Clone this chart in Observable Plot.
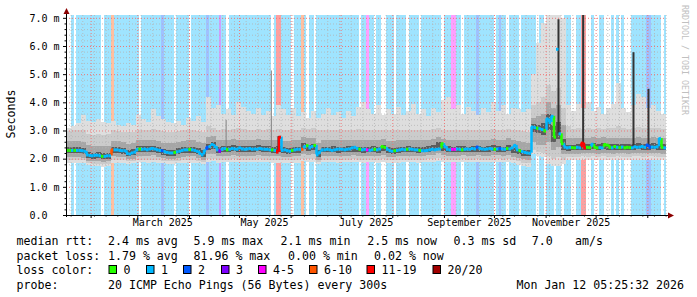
<!DOCTYPE html>
<html><head><meta charset="utf-8">
<script src="https://cdn.jsdelivr.net/npm/d3@7"></script>
<script src="https://cdn.jsdelivr.net/npm/@observablehq/plot@0.6"></script>
<style>
html,body{margin:0;padding:0;background:#fff;}
#chart{width:697px;height:297px;overflow:hidden;}
</style></head>
<body><div id="chart"></div>
<script>
// ---------------- DATA ----------------
const endTimeISO = "2026-01-12T05:25:32Z";
const spanDays = 360;
const medStepDays = 1.5;    // median / loss samples
const smokeStepDays = 3;    // smoke samples

// median rtt (ms), one value per 1.5 days
const medianRtt = [
 2.31,2.31,2.31,2.31,2.31,2.31,2.30,2.28,
 2.15,2.13,2.12,2.14,2.14,2.12,2.10,2.10,2.12,2.12,
 2.33,2.33,2.33,2.31,2.30,2.30,
 2.20,2.18,2.22,2.25,
 2.35,2.36,2.35,2.36,2.33,2.36,2.38,2.36,2.33,2.31,
 2.30,2.26,2.24,2.22,2.22,2.24,2.26,2.28,
 2.31,2.33,2.33,2.35,2.33,2.31,
 2.28,2.20,2.15,2.30,
 2.42,2.45,2.52,2.45,
 2.33,2.28,
 2.36,2.38,2.33,2.35,2.38,2.36,2.35,2.40,2.36,2.35,2.36,2.38,2.35,2.36,2.35,2.38,2.36,2.35,2.35,2.33,
 2.33,2.31,2.25,2.78,
 2.31,2.33,2.30,2.28,2.31,2.33,2.35,
 2.35,2.35,
 2.45,2.48,2.40,
 2.45,2.49,
 2.15,2.25,
 2.33,2.33,2.35,2.33,2.31,2.33,2.35,2.36,2.35,2.33,2.35,2.36,2.40,2.42,2.38,2.35,2.33,2.35,2.33,2.31,
 2.33,2.35,2.33,2.36,2.45,2.42,2.35,2.30,2.28,2.30,2.31,2.33,2.35,2.33,2.35,2.36,2.35,2.33,
 2.33,2.31,2.30,2.30,2.31,2.33,2.35,2.33,2.35,2.36,
 2.55,2.45,
 2.35,2.33,2.35,2.35,2.36,2.35,2.33,2.35,2.36,2.35,2.38,2.36,
 2.43,2.38,
 2.36,2.35,2.36,2.38,2.36,2.35,2.36,2.38,2.36,2.35,2.38,2.36,2.40,2.49,
 2.33,2.30,2.27,2.24,2.22,2.21,
 3.14,3.12,3.10,3.08,3.05,3.00,3.43,3.30,3.52,2.78,5.90,2.90,2.55,2.43,
 2.40,2.42,2.41,2.40,2.42,2.40,2.57,2.40,2.42,2.41,
 2.53,2.42,2.40,2.41,2.40,2.52,2.50,2.42,2.40,2.45,
 2.42,2.41,2.43,2.40,2.42,2.41,2.40,2.44,2.42,2.43,
 2.45,2.42,2.50,2.42,2.43,2.42,2.44,2.73,2.42,2.40
];

// loss class per 1.5 days: 0="0",1="1",2="2",3="3",4="4-5",5="6-10",6="11-19",7="20/20"
const lossClass = (
 "0010111111"+"1111011151"+"1111111110"+"1111111121"+"1110111110"+
 "1111112111"+"1311011111"+"1111111111"+"1101661111"+"0111510110"+
 "1111111111"+"1111111011"+"4110110011"+"1011110111"+"1011111111"+
 "0111441101"+"1111211111"+"1012110111"+"1011111101"+"1011101101"+
 "1100116600"+"1001100010"+"1010001111"+"1122111101"
).split("").map(Number);

// smoke distribution (ms), one value per 3 days
const smokeMax = [
 3.10,3.15,3.25,3.55,3.35,3.30,3.40,3.30,3.25,3.35,3.20,3.15,3.25,3.20,3.55,3.40,3.30,3.75,3.50,3.40,
 3.30,3.25,3.35,3.20,3.45,3.35,3.50,3.30,4.20,3.80,3.90,3.60,3.75,3.55,4.00,3.85,3.70,3.60,3.80,3.55,
 3.70,3.50,3.90,3.75,3.55,3.80,3.50,3.65,3.45,3.70,3.45,3.60,3.80,3.55,3.65,3.45,3.70,3.50,3.85,4.00,
 3.75,3.60,3.90,3.55,3.75,3.60,3.85,3.55,3.70,3.95,3.60,3.75,3.50,3.80,3.65,4.10,4.20,3.75,3.90,3.60,
 3.85,3.70,3.55,3.80,3.65,4.00,3.70,3.90,3.60,3.80,3.75,3.65,3.75,5.00,6.10,6.80,7.20,7.20,7.20,7.00,
 3.90,3.70,3.95,3.80,4.00,3.70,3.85,3.60,3.80,3.95,4.70,3.80,3.65,3.90,4.30,4.20,3.80,3.90,3.70,3.60
];
const smokeP90 = [
 2.98,3.00,3.02,3.00, 2.88,2.85,2.86,2.84,2.86, 3.00,2.98,2.96,2.94,2.95,
 3.02,3.00,3.03,3.05,3.00,2.98,2.95,2.96,2.98,3.00,3.02,3.00,2.98,2.95, 3.15,3.10,
 3.02,3.05,3.03,3.05,3.08,3.05,3.03,3.02,3.05,3.03,3.05,3.02, 3.05,
 3.03,3.00,3.02,3.00,3.08,3.05,3.10,3.00,3.02,3.03,3.00,3.02,3.03,3.00,3.02,3.05,3.03,3.00,3.02,3.00,
 3.03,3.02,3.00,3.02,3.03,3.00,3.02,3.00,3.03,3.02,3.05,3.08,3.03,3.02,3.00,3.02,3.03,3.00,3.02,3.03,
 3.00,3.02,3.05,3.03,3.02,3.06,3.03,3.00,2.98,2.95,
 3.90,4.00,4.20,4.60,4.40,4.50,3.80,3.15,
 3.05,3.08,3.05,3.10,3.05,3.08,3.05,3.10,3.08,3.15,3.08,3.05,3.10,3.12,3.10,3.08,3.10,3.08,3.05
];
const smokeP75 = [
 2.62,2.62,2.63,2.60, 2.48,2.45,2.46,2.44,2.45, 2.64,2.62,2.58,2.52,2.55,
 2.66,2.67,2.65,2.67,2.62,2.57,2.54,2.55,2.60,2.63,2.65,2.65,2.60,2.55, 2.78,2.80,
 2.65,2.68,2.68,2.70,2.67,2.68,2.67,2.67,2.70,2.67,2.68,2.65, 2.68,
 2.63,2.62,2.65,2.65,2.78,2.72,2.75,2.55,2.66,2.66,2.67,2.65,2.66,2.67,2.68,2.66,2.65,2.66,2.67,2.65,
 2.70,2.64,2.62,2.65,2.66,2.67,2.66,2.65,2.66,2.68,2.70,2.78,2.70,2.67,2.66,2.67,2.68,2.66,2.67,2.68,
 2.66,2.67,2.70,2.68,2.66,2.72,2.65,2.62,2.58,2.55,
 3.45,3.50,3.60,4.00,3.80,3.90,3.20,2.75,
 2.72,2.73,2.75,2.74,2.76,2.73,2.76,2.74,2.73,2.75,2.74,2.73,2.75,2.76,2.74,2.75,2.76,2.74,2.73
];
const smokeP60 = [
 2.40,2.40,2.40,2.38, 2.23,2.21,2.22,2.19,2.21, 2.42,2.41,2.38,2.29,2.33,
 2.44,2.45,2.44,2.46,2.40,2.35,2.31,2.32,2.37,2.40,2.42,2.42,2.37,2.30, 2.53,2.58,
 2.42,2.45,2.45,2.48,2.44,2.45,2.44,2.44,2.47,2.44,2.45,2.42, 2.45,
 2.40,2.39,2.42,2.42,2.55,2.48,2.52,2.30,2.43,2.43,2.44,2.42,2.43,2.44,2.45,2.43,2.42,2.43,2.44,2.42,
 2.48,2.40,2.38,2.42,2.43,2.44,2.43,2.42,2.43,2.45,2.48,2.58,2.47,2.44,2.43,2.44,2.45,2.43,2.44,2.45,
 2.43,2.44,2.47,2.45,2.43,2.50,2.40,2.36,2.32,2.30,
 3.22,3.20,3.25,3.60,3.20,3.30,2.70,2.50,
 2.50,2.51,2.53,2.52,2.55,2.51,2.54,2.52,2.51,2.53,2.52,2.51,2.53,2.55,2.52,2.53,2.55,2.52,2.51
];
const smokeP40 = [
 2.19,2.19,2.19,2.16, 2.02,2.00,2.01,1.98,2.00, 2.21,2.20,2.17,2.08,2.12,
 2.23,2.24,2.23,2.25,2.19,2.14,2.10,2.11,2.16,2.19,2.21,2.21,2.16,2.06, 2.30,2.35,
 2.20,2.24,2.24,2.27,2.23,2.24,2.23,2.23,2.26,2.23,2.24,2.21, 2.22,
 2.19,2.18,2.21,2.21,2.33,2.27,2.30,2.05,2.22,2.22,2.23,2.21,2.22,2.23,2.24,2.22,2.21,2.22,2.23,2.21,
 2.27,2.19,2.17,2.21,2.22,2.23,2.22,2.21,2.22,2.24,2.27,2.36,2.26,2.23,2.22,2.23,2.24,2.22,2.23,2.24,
 2.22,2.23,2.26,2.24,2.22,2.28,2.19,2.15,2.11,2.09,
 2.95,2.90,2.85,3.00,2.60,2.70,2.30,2.28,
 2.29,2.30,2.32,2.31,2.34,2.30,2.33,2.31,2.30,2.32,2.31,2.30,2.32,2.34,2.31,2.32,2.34,2.31,2.30
];
const smokeP25 = [
 2.06,2.06,2.06,2.04, 1.92,1.90,1.90,1.88,1.90, 2.08,2.07,2.05,1.98,2.00,
 2.10,2.10,2.10,2.12,2.06,2.02,1.98,1.99,2.03,2.06,2.08,2.08,2.04,1.96, 2.15,2.18,
 2.08,2.10,2.10,2.12,2.10,2.10,2.10,2.10,2.12,2.10,2.10,2.08, 2.09,
 2.07,2.06,2.09,2.09,2.18,2.14,2.16,1.95,2.10,2.10,2.11,2.09,2.10,2.11,2.12,2.10,2.09,2.10,2.11,2.09,
 2.14,2.07,2.05,2.09,2.10,2.11,2.10,2.09,2.10,2.12,2.14,2.20,2.13,2.11,2.10,2.11,2.12,2.10,2.11,2.12,
 2.10,2.11,2.13,2.12,2.10,2.14,2.06,2.02,1.98,1.96,
 2.60,2.50,2.50,2.60,2.30,2.40,2.15,2.15,
 2.17,2.18,2.20,2.19,2.21,2.18,2.20,2.19,2.18,2.20,2.19,2.18,2.20,2.21,2.19,2.20,2.21,2.19,2.18
];
const smokeP10 = [
 1.95,1.95,1.95,1.94, 1.84,1.82,1.82,1.80,1.82, 1.96,1.96,1.94,1.90,1.92,
 1.97,1.97,1.96,1.97,1.95,1.93,1.90,1.90,1.93,1.95,1.96,1.96,1.93,1.88, 1.98,2.00,
 1.96,1.97,1.97,1.98,1.97,1.97,1.97,1.97,1.98,1.97,1.97,1.96, 1.96,
 1.96,1.95,1.96,1.96,2.00,1.98,1.98,1.88,1.97,1.97,1.97,1.96,1.97,1.97,1.98,1.97,1.96,1.97,1.97,1.96,
 1.98,1.95,1.94,1.96,1.97,1.97,1.97,1.96,1.97,1.98,1.98,2.02,1.98,1.97,1.97,1.97,1.98,1.97,1.97,1.98,
 1.97,1.97,1.98,1.98,1.97,1.98,1.94,1.90,1.86,1.84,
 2.30,2.25,2.20,2.10,2.00,2.05,1.95,2.05,
 2.06,2.07,2.08,2.07,2.08,2.06,2.08,2.07,2.06,2.08,2.07,2.06,2.08,2.08,2.07,2.08,2.08,2.07,2.06
];
const smokeMin = [
 1.86,1.85,1.85,1.84, 1.76,1.74,1.74,1.72,1.74, 1.86,1.86,1.85,1.82,1.83,
 1.87,1.87,1.86,1.87,1.85,1.84,1.82,1.82,1.84,1.85,1.86,1.86,1.84,1.80, 1.88,1.90,
 1.86,1.87,1.87,1.88,1.87,1.87,1.87,1.87,1.88,1.87,1.87,1.86, 1.86,
 1.86,1.85,1.86,1.86,1.90,1.88,1.88,1.80,1.87,1.87,1.87,1.86,1.87,1.87,1.88,1.87,1.86,1.87,1.87,1.86,
 1.88,1.85,1.84,1.86,1.87,1.87,1.87,1.86,1.87,1.88,1.88,1.90,1.88,1.87,1.87,1.87,1.88,1.87,1.87,1.88,
 1.87,1.87,1.88,1.88,1.87,1.88,1.84,1.78,1.74,1.72,
 2.15,2.10,2.05,1.80,1.75,1.75,1.80,1.95,
 1.96,1.97,1.97,1.96,1.97,1.95,1.97,1.96,1.95,1.97,1.96,1.95,1.97,1.97,1.96,1.97,1.97,1.96,1.95
];

// single-ping spikes
const darkSpikes = [
 {date:"2025-11-08T10:00Z", base:2.90, top:6.95},
 {date:"2025-11-23T05:00Z", base:2.55, top:7.20},
 {date:"2025-12-23T10:00Z", base:2.42, top:5.78},
 {date:"2026-01-01T10:00Z", base:2.42, top:4.48},
 {date:"2025-05-24T10:00Z", base:2.25, top:2.80}
];
const faintSpikes = [
 {date:"2025-04-23T00:00Z", base:2.38, top:3.38},
 {date:"2025-05-20T03:00Z", base:2.38, top:5.13}
];

const lossLabels = ["0","1","2","3","4-5","6-10","11-19","20/20"];
const lossColors = ["#26ff00","#00b8ff","#0059ff","#7e00ff","#ff00ff","#ff5500","#ff0000","#a10000"];
const yTickValues = [0,1,2,3,4,5,6,7];
const yTickLabels = ["0.0","1.0 m","2.0 m","3.0 m","4.0 m","5.0 m","6.0 m","7.0 m"];
const statsRtt = ["2.4 ms avg","5.9 ms max","2.1 ms min","2.5 ms now","0.3 ms sd","7.0","am/s"];
const statsLoss = ["1.79 % avg","81.96 % max","0.00 % min","0.02 % now"];
const probeText = "20 ICMP Echo Pings (56 Bytes) every 300s";
const stampText = "Mon Jan 12 05:25:32 2026";
const yLabel = "Seconds";
const watermark = "RRDTOOL / TOBI OETIKER";

// ---------------- BUILD ----------------
const DAY = 864e5;
const endTime = new Date(endTimeISO);
const startTime = new Date(+endTime - spanDays*DAY);
const tAt = (i, step) => new Date(+startTime + i*step*DAY);

const medBins = medianRtt.map((v,k)=>({t1:tAt(k,medStepDays), t2:tAt(k+1,medStepDays), v, cls:lossClass[k]}));
const connectors = [];
for (let k=1;k<medBins.length;k++){
  const a=medBins[k-1].v, b=medBins[k].v;
  if (Math.abs(a-b) < 1 && a!==b) connectors.push({t:medBins[k].t1, a, b, cls:medBins[k].cls});
}
const smokeBins = smokeMax.map((hi,i)=>({t1:tAt(i,smokeStepDays), t2:tAt(i+1,smokeStepDays),
  hi, p90:smokeP90[i], p75:smokeP75[i], p60:smokeP60[i], p40:smokeP40[i], p25:smokeP25[i], p10:smokeP10[i], lo:smokeMin[i]}));
const smokeLayers = [["lo","hi","#dedede"],["p10","p90","#cbcbcb"],["p25","p75","#a6a6a6"],["p40","p60","#5c5c5c"]];
const spk = a => a.map(d=>({...d, date:new Date(d.date)}));

const months = d3.utcMonth.range(startTime, endTime);
const weeks = d3.utcMonday.range(startTime, endTime).filter(d=>d.getUTCDate()!==1);
// label every other month (March, May, ...) at mid-month
const labelMonths = d3.utcMonth.range(d3.utcMonth.ceil(startTime), endTime)
  .filter((d,i)=>i%2===1).map(d=>d3.utcDay.offset(d,15)).filter(d=>d<endTime);
const minorY = d3.range(1,36).map(i=>i*0.2).filter(v=>Math.abs(v-Math.round(v))>1e-6);
const majorY = yTickValues.filter(v=>v>0);

const MONO = "'DejaVu Sans Mono', monospace";

const plot = Plot.plot({
  width: 697, height: 297,
  marginLeft: 66, marginRight: 31, marginTop: 15, marginBottom: 82,
  x: {type:"utc", domain:[startTime, endTime], axis:null},
  y: {domain:[0,7.1], axis:null},
  style: {background:"#fff", fontFamily: MONO, overflow:"visible"},
  marks: [
    Plot.rect(medBins.filter(d=>d.cls>0), {x1:"t1", x2:"t2", fill:d=>lossColors[d.cls], fillOpacity:0.376, inset:0, shapeRendering:"crispEdges"}),
    ...smokeLayers.map(([a,b,c]) => Plot.rect(smokeBins, {x1:"t1", x2:"t2", y1:a, y2:b, fill:c, inset:0, shapeRendering:"crispEdges", clip:true})),
    Plot.ruleY(minorY, {stroke:"#b4b4b4", strokeDasharray:"1,2", strokeOpacity:0.8}),
    Plot.ruleX(weeks, {stroke:"#b4b4b4", strokeDasharray:"1,2", strokeOpacity:0.8}),
    Plot.ruleY(majorY, {stroke:"#ee7777", strokeDasharray:"1,2"}),
    Plot.ruleX(months, {stroke:"#ee7777", strokeDasharray:"1,2"}),
    Plot.ruleX(spk(faintSpikes), {x:"date", y1:"base", y2:"top", stroke:"#808080", strokeWidth:1}),
    Plot.ruleX(spk(darkSpikes), {x:"date", y1:"base", y2:"top", stroke:"#333", strokeWidth:2, clip:true}),
    Plot.ruleX(connectors, {x:"t", y1:"a", y2:"b", stroke:d=>lossColors[d.cls], strokeWidth:2.5}),
    Plot.ruleY(medBins, {x1:"t1", x2:"t2", y:"v", stroke:d=>lossColors[d.cls], strokeWidth:3}),
    Plot.text(yTickValues, {y:d=>d, text:(d,i)=>yTickLabels[i], frameAnchor:"left", textAnchor:"start", dx:-37, fontSize:10, fontFamily:MONO, fill:"#000"}),
    Plot.text(labelMonths, {x:d=>d, text:d=>d3.utcFormat("%B %Y")(d), frameAnchor:"bottom", dy:10, fontSize:10, fontFamily:MONO, fill:"#000"})
  ]
});
document.getElementById("chart").appendChild(plot);

// ---------------- DECORATIONS ----------------
const svg = d3.select(plot);
const xs = plot.scale("x"), ys = plot.scale("y");
const X0 = xs.apply(startTime), X1 = xs.apply(endTime), Y0 = ys.apply(0);
const deco = svg.append("g").attr("text-anchor","start");
// axis ticks
yTickValues.forEach(v=>deco.append("line").attr("x1",X0-3).attr("x2",X0+1).attr("y1",ys.apply(v)+0.5).attr("y2",ys.apply(v)+0.5).attr("stroke","#000"));
minorY.forEach(v=>deco.append("line").attr("x1",X0-1.5).attr("x2",X0).attr("y1",ys.apply(v)+0.5).attr("y2",ys.apply(v)+0.5).attr("stroke","#000"));
months.forEach(d=>deco.append("line").attr("x1",xs.apply(d)+0.5).attr("x2",xs.apply(d)+0.5).attr("y1",Y0).attr("y2",Y0+3).attr("stroke","#000"));
weeks.forEach(d=>deco.append("line").attr("x1",xs.apply(d)+0.5).attr("x2",xs.apply(d)+0.5).attr("y1",Y0).attr("y2",Y0+1.5).attr("stroke","#000"));
// axis lines
deco.append("line").attr("x1",X0+0.5).attr("x2",X0+0.5).attr("y1",Y0+2).attr("y2",10).attr("stroke","#000");
deco.append("line").attr("x1",X0-2).attr("x2",X1+4).attr("y1",Y0+0.5).attr("y2",Y0+0.5).attr("stroke","#000");
deco.append("path").attr("d",`M${X0-2.5},${14}L${X0+3.5},${14}L${X0+0.5},${8}Z`).attr("fill","#8b0000");
deco.append("path").attr("d",`M${X1+2},${Y0-2.5}L${X1+2},${Y0+3.5}L${X1+8},${Y0+0.5}Z`).attr("fill","#8b0000");

const txt = (x,y,s,opt={}) => deco.append("text").attr("x",x).attr("y",y).attr("dy","0.35em")
  .attr("font-family",MONO).attr("font-size",opt.size||11.6).attr("fill",opt.fill||"#000")
  .attr("text-anchor",opt.anchor||"start").style("white-space","pre").text(s);

// y label
deco.append("text").attr("transform","translate(11,114) rotate(-90)").attr("dy","0.35em")
  .attr("font-family",MONO).attr("font-size",11.6).attr("text-anchor","middle").text(yLabel);
// watermark
deco.append("text").attr("transform","translate(685,5) rotate(90)").attr("dy","0.35em")
  .attr("font-family",MONO).attr("font-size",8.3).attr("fill","#c0c0c0").attr("text-anchor","start").text(watermark);

// legend rows
const L1=241, L2=256, L3=270, L4=285;
txt(16.5,L1,"median rtt:");
[108,193.5,280.6,367.3,453.5,531.7,575].forEach((x,i)=>txt(x,L1,statsRtt[i]));
txt(16.5,L2,"packet loss:");
[108,193.5,288,374].forEach((x,i)=>txt(x,L2,statsLoss[i]));
txt(16.5,L3,"loss color:");
[108.5,146,183,221,258,309,366.5,432.5].forEach((x,i)=>{
  deco.append("rect").attr("x",x+0.5).attr("y",L3-4.5).attr("width",7.5).attr("height",8)
    .attr("fill",lossColors[i]).attr("stroke","#000").attr("stroke-width",1);
  txt(x+15,L3,lossLabels[i]);
});
txt(16.5,L4,"probe:");
txt(108,L4,probeText);
txt(684,L4,stampText,{anchor:"end"});
</script>
</body></html>
